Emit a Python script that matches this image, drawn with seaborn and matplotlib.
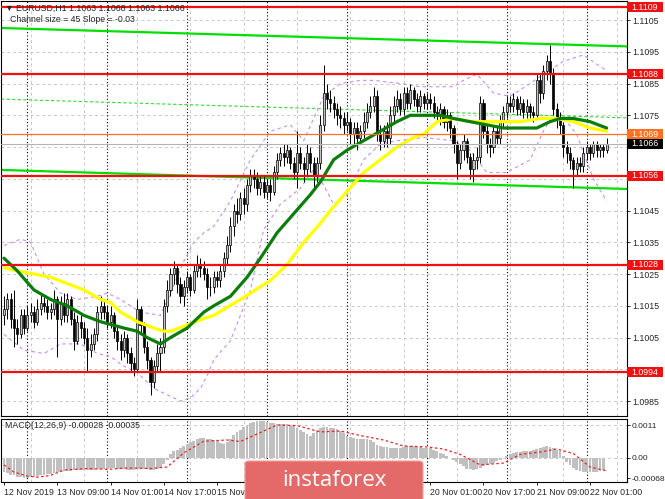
import numpy as np
import pandas as pd
import seaborn as sns
import matplotlib.pyplot as plt
from matplotlib.patches import FancyBboxPatch, Rectangle
from matplotlib.transforms import blended_transform_factory

sns.set_style("white")
plt.rcParams['font.family'] = ['Liberation Sans', 'DejaVu Sans']

# EURUSD H1, 12 Nov 17:00 .. 22 Nov 06:00 (one value per bar)
first_open = 1.1012
close_px = [
    1.1014, 1.1017, 1.1011, 1.1008, 1.1006, 1.1012, 1.1008, 1.1012, 1.1013, 1.1010,
    1.1014, 1.1016, 1.1015, 1.1013, 1.1014, 1.1017, 1.1011, 1.1016, 1.1012, 1.1017,
    1.1011, 1.1004, 1.1010, 1.1008, 1.1005, 1.1001, 1.1003, 1.1006, 1.1013, 1.1015,
    1.1013, 1.1010, 1.1012, 1.1007, 1.1004, 1.1001, 1.1005, 1.1000, 1.0997, 1.0995,
    1.1014, 1.1009, 1.1002, 1.0998, 1.0991, 1.0996, 1.1000, 1.1002, 1.1015, 1.1020,
    1.1025, 1.1027, 1.1022, 1.1018, 1.1021, 1.1024, 1.1020, 1.1026, 1.1028, 1.1027,
    1.1025, 1.1021, 1.1021, 1.1024, 1.1023, 1.1026, 1.1030, 1.1034, 1.1040, 1.1045,
    1.1044, 1.1049, 1.1047, 1.1053, 1.1056, 1.1055, 1.1052, 1.1054, 1.1051, 1.1053,
    1.1051, 1.1057, 1.1061, 1.1063, 1.1062, 1.1064, 1.1060, 1.1057, 1.1063, 1.1060,
    1.1058, 1.1063, 1.1060, 1.1056, 1.1060, 1.1072, 1.1082, 1.1080, 1.1079, 1.1077,
    1.1075, 1.1074, 1.1072, 1.1073, 1.1069, 1.1071, 1.1068, 1.1070, 1.1073, 1.1076,
    1.1078, 1.1081, 1.1069, 1.1067, 1.1070, 1.1068, 1.1075, 1.1078, 1.1080, 1.1077,
    1.1082, 1.1079, 1.1083, 1.1080, 1.1078, 1.1081, 1.1079, 1.1080, 1.1079, 1.1076,
    1.1075, 1.1077, 1.1073, 1.1075, 1.1071, 1.1066, 1.1060, 1.1064, 1.1067, 1.1062,
    1.1058, 1.1061, 1.1062, 1.1079, 1.1070, 1.1066, 1.1065, 1.1070, 1.1068, 1.1073,
    1.1076, 1.1079, 1.1078, 1.1080, 1.1077, 1.1079, 1.1076, 1.1078, 1.1076, 1.1075,
    1.1086, 1.1082, 1.1089, 1.1092, 1.1088, 1.1077, 1.1074, 1.1072, 1.1065, 1.1063,
    1.1061, 1.1058, 1.1060, 1.1059, 1.1063, 1.1065, 1.1063, 1.1066, 1.1064, 1.1065,
    1.1064, 1.1066]
high_px = [
    1.1018, 1.1019, 1.1019, 1.1020, 1.1011, 1.1014, 1.1014, 1.1015, 1.1016, 1.1015,
    1.1017, 1.1019, 1.1018, 1.1017, 1.1016, 1.1020, 1.1018, 1.1018, 1.1019, 1.1019,
    1.1018, 1.1013, 1.1012, 1.1012, 1.1010, 1.1008, 1.1006, 1.1008, 1.1015, 1.1018,
    1.1017, 1.1015, 1.1015, 1.1013, 1.1009, 1.1006, 1.1007, 1.1006, 1.1002, 1.0999,
    1.1017, 1.1015, 1.1010, 1.1004, 1.0999, 1.0998, 1.1003, 1.1005, 1.1017, 1.1023,
    1.1027, 1.1029, 1.1028, 1.1024, 1.1023, 1.1026, 1.1025, 1.1028, 1.1031, 1.1030,
    1.1029, 1.1027, 1.1024, 1.1026, 1.1026, 1.1028, 1.1032, 1.1037, 1.1043, 1.1047,
    1.1049, 1.1051, 1.1052, 1.1055, 1.1058, 1.1058, 1.1057, 1.1056, 1.1056, 1.1055,
    1.1055, 1.1059, 1.1063, 1.1065, 1.1066, 1.1066, 1.1065, 1.1062, 1.1070, 1.1065,
    1.1062, 1.1066, 1.1065, 1.1062, 1.1062, 1.1075, 1.1091, 1.1085, 1.1083, 1.1081,
    1.1079, 1.1078, 1.1076, 1.1076, 1.1074, 1.1073, 1.1073, 1.1072, 1.1076, 1.1079,
    1.1081, 1.1084, 1.1083, 1.1072, 1.1072, 1.1073, 1.1078, 1.1081, 1.1083, 1.1082,
    1.1084, 1.1084, 1.1085, 1.1084, 1.1082, 1.1083, 1.1082, 1.1082, 1.1082, 1.1081,
    1.1078, 1.1079, 1.1078, 1.1077, 1.1076, 1.1072, 1.1067, 1.1066, 1.1069, 1.1068,
    1.1063, 1.1063, 1.1065, 1.1081, 1.1080, 1.1072, 1.1068, 1.1072, 1.1072, 1.1075,
    1.1078, 1.1081, 1.1081, 1.1082, 1.1081, 1.1081, 1.1080, 1.1080, 1.1079, 1.1078,
    1.1088, 1.1088, 1.1091, 1.1094, 1.1097, 1.1090, 1.1079, 1.1076, 1.1073, 1.1067,
    1.1065, 1.1062, 1.1062, 1.1062, 1.1065, 1.1067, 1.1066, 1.1067, 1.1067, 1.1066,
    1.1066, 1.1068]
low_px = [
    1.1009, 1.1011, 1.1008, 1.1002, 1.1003, 1.1005, 1.1006, 1.1007, 1.1010, 1.1008,
    1.1009, 1.1012, 1.1013, 1.1011, 1.1011, 1.1012, 1.0999, 1.1009, 1.1010, 1.1010,
    1.1009, 1.1001, 1.1003, 1.1005, 1.1003, 1.0994, 1.0999, 1.1001, 1.1004, 1.1011,
    1.1011, 1.1008, 1.1008, 1.1005, 1.1001, 1.0998, 1.0999, 1.0997, 1.0994, 1.0993,
    1.0994, 1.1006, 1.1000, 1.0995, 1.0987, 1.0989, 1.0994, 1.0994, 1.1000, 1.1013,
    1.1018, 1.1022, 1.1019, 1.1016, 1.1015, 1.1019, 1.1018, 1.1019, 1.1024, 1.1024,
    1.1023, 1.1017, 1.1018, 1.1019, 1.1021, 1.1021, 1.1024, 1.1028, 1.1032, 1.1037,
    1.1041, 1.1042, 1.1044, 1.1045, 1.1051, 1.1052, 1.1050, 1.1050, 1.1049, 1.1049,
    1.1048, 1.1050, 1.1055, 1.1059, 1.1059, 1.1060, 1.1058, 1.1055, 1.1052, 1.1058,
    1.1054, 1.1056, 1.1057, 1.1052, 1.1054, 1.1058, 1.1070, 1.1077, 1.1076, 1.1074,
    1.1072, 1.1071, 1.1069, 1.1070, 1.1066, 1.1066, 1.1064, 1.1066, 1.1068, 1.1071,
    1.1074, 1.1076, 1.1067, 1.1064, 1.1065, 1.1065, 1.1066, 1.1073, 1.1076, 1.1075,
    1.1075, 1.1077, 1.1077, 1.1078, 1.1076, 1.1076, 1.1077, 1.1077, 1.1077, 1.1074,
    1.1073, 1.1072, 1.1071, 1.1070, 1.1068, 1.1063, 1.1055, 1.1058, 1.1061, 1.1060,
    1.1055, 1.1054, 1.1058, 1.1060, 1.1068, 1.1063, 1.1062, 1.1063, 1.1066, 1.1066,
    1.1071, 1.1074, 1.1076, 1.1076, 1.1075, 1.1075, 1.1074, 1.1074, 1.1074, 1.1073,
    1.1074, 1.1079, 1.1080, 1.1086, 1.1085, 1.1075, 1.1071, 1.1069, 1.1062, 1.1060,
    1.1058, 1.1052, 1.1056, 1.1057, 1.1057, 1.1061, 1.1061, 1.1062, 1.1062, 1.1062,
    1.1062, 1.1063]

# moving averages (bar index, price)
ma_green_idx = [0, 4, 9, 14, 19, 24, 29, 36, 40, 43, 47, 50, 55, 60, 63, 68, 73, 77, 82, 87,
                92, 95, 99, 103, 108, 113, 118, 122, 126, 131, 135, 140, 145, 150, 156,
                160, 164, 167, 171, 176, 181]
ma_green = [1.1030, 1.1026, 1.1020, 1.1017, 1.1015, 1.1012, 1.1010, 1.1008, 1.1007, 1.1005,
            1.1003, 1.1005, 1.1008, 1.1013, 1.1015, 1.1018, 1.1024, 1.1030, 1.1038, 1.1044,
            1.1050, 1.1054, 1.1061, 1.1064, 1.1067, 1.1070, 1.1073, 1.1075, 1.1075, 1.1075,
            1.1074, 1.1073, 1.1072, 1.1071, 1.1071, 1.1071, 1.1073, 1.1074, 1.1074, 1.1073,
            1.1071]
ma_yellow_idx = [0, 4, 9, 14, 19, 24, 29, 32, 35, 40, 45, 48, 50, 55, 60, 63, 71, 80, 85, 90,
                 95, 98, 103, 108, 113, 118, 123, 126, 130, 135, 140, 145, 150, 155, 161,
                 166, 171, 176, 181]
ma_yellow = [1.1027, 1.1026, 1.1025, 1.1024, 1.1022, 1.1020, 1.1017, 1.1016, 1.1013, 1.1010,
             1.1008, 1.1007, 1.1007, 1.1009, 1.1011, 1.1012, 1.1017, 1.1023, 1.1028, 1.1035,
             1.1041, 1.1045, 1.1051, 1.1057, 1.1061, 1.1065, 1.1068, 1.1069, 1.1073, 1.1074,
             1.1073, 1.1073, 1.1073, 1.1073, 1.1074, 1.1074, 1.1073, 1.1071, 1.1070]

# envelope bands (bar index, price)
band_up_idx = [0, 5, 8, 12, 17, 22, 28, 31, 35, 41, 47, 50, 54, 57, 60, 63, 68, 74, 80, 86,
               90, 93, 96, 101, 107, 111, 119, 125, 135, 138, 142, 147, 152, 158, 162,
               168, 174, 181]
band_up = [1.1034, 1.1036, 1.1035, 1.1025, 1.1019, 1.1017, 1.1018, 1.1019, 1.1017, 1.1013,
           1.1012, 1.1019, 1.1029, 1.1035, 1.1038, 1.1040, 1.1048, 1.1061, 1.1070, 1.1072,
           1.1067, 1.1074, 1.1081, 1.1085, 1.1086, 1.1086, 1.1085, 1.1084, 1.1084, 1.1086,
           1.1088, 1.1082, 1.1081, 1.1085, 1.1088, 1.1092, 1.1094, 1.1089]
band_lo_idx = [0, 6, 12, 17, 23, 28, 32, 36, 40, 45, 49, 53, 56, 59, 61, 63, 68, 74, 78, 83,
               89, 93, 96, 99, 103, 108, 113, 118, 126, 135, 140, 145, 151, 158, 162, 166,
               172, 177, 181]
band_lo = [1.1006, 1.1001, 1.1000, 1.1003, 1.1003, 1.1000, 1.0999, 1.0996, 1.0994, 1.0989,
           1.0987, 1.0985, 1.0986, 1.0989, 1.0993, 1.0998, 1.1004, 1.1020, 1.1039, 1.1047,
           1.1052, 1.1058, 1.1053, 1.1047, 1.1050, 1.1061, 1.1066, 1.1067, 1.1068, 1.1067,
           1.1064, 1.1057, 1.1057, 1.1061, 1.1070, 1.1077, 1.1069, 1.1055, 1.1048]

# linear regression channel (ends at the plot edges)
chan_idx = [-0.9, 187.1]
chan_top = [1.11025, 1.10967]
chan_mid = [1.10801, 1.10742]
chan_bot = [1.10578, 1.10518]

levels_red = [1.1109, 1.1088, 1.1056, 1.1028, 1.0994]
level_orange = 1.1069
level_bid = 1.1066

price_ticks = [1.0985, 1.0995, 1.1005, 1.1015, 1.1025, 1.1035, 1.1045, 1.1055,
               1.1065, 1.1075, 1.1085, 1.1095, 1.1105]
hidden_ticks = [1.0995, 1.1055, 1.1065]   # covered by the price tags

# MACD main (histogram) per bar, in 1e-5
macd_hist = [
    -45, -50, -55, -58, -62, -64, -66,
    -66, -64, -62, -60, -58, -56, -54, -52, -50, -48, -46, -44, -43,
    -42, -41, -40, -40, -39, -40, -41, -40, -38, -36, -35, -35,
    -34, -34, -35, -37, -38, -39, -40, -41, -37, -36, -37, -38, -40, -40, -38, -32,
    -20, -5, 12, 22, 28, 32,
    40, 46, 52, 58, 63, 66, 66, 64, 62, 60, 56, 50, 46,
    55, 65, 76, 87, 95, 103, 110, 116, 120, 122, 123, 122, 120, 118, 116, 115, 114,
    114, 113, 110, 106, 100, 94, 88, 80, 75, 82, 92, 100, 103, 102, 101, 100, 96, 90,
    82, 75, 70, 67, 65, 64, 64, 62, 60, 52, 45, 40, 38, 36, 35, 35, 34, 35, 37, 39,
    40, 40, 38, 36, 35, 35, 32, 28, 22, 17, 12, 6, 0, -6, -14, -20, -28, -35, -38,
    -40, -36, -32, -27, -23, -19, -15, -10, -6, 0, 6, 12, 17, 19, 21, 22, 23, 25, 28,
    30, 33, 37, 40, 38, 33, 28, 23, 8, -12, -22, -32, -40, -44, -47, -48, -48, -47,
    -47, -44, -40]
signal_idx = [0, 3, 7, 10, 14, 18, 25, 31, 37, 44, 49, 54, 60, 67, 71, 76, 82, 88, 95, 101,
              107, 114, 120, 127, 132, 137, 143, 150, 155, 161, 166, 171, 176, 181]
signal_val = [-23, -47, -60, -64, -58, -40, -35, -38, -33, -35, -30, 17, 56, 60, 55, 80, 110,
              108, 87, 90, 75, 60, 40, 37, 30, 12, -23, -17, 12, 20, 30, 15, -30, -43]

# time scale: labels under the watermark are left blank
date_idx = [0, 16, 32, 48, 64, 80, 96, 112, 128, 144, 160, 176]
date_labels = ['12 Nov 2019', '13 Nov 09:00', '14 Nov 01:00', '14 Nov 17:00', '15 Nov 09:00',
               '', '', '', '20 Nov 01:00', '20 Nov 17:00', '21 Nov 09:00', '22 Nov 01:00']
day_sep_idx = [7, 31, 55, 79, 103, 127, 151, 175]
grid_idx = [8, 24, 40, 56, 72, 88, 104, 120, 136, 152, 168, 184]

W, H = 665, 499
fig = plt.figure(figsize=(W / 100, H / 100), dpi=100)
ax = fig.add_axes([1 / W, 83 / H, 626 / W, 415 / H])
axm = fig.add_axes([1 / W, 17 / H, 626 / W, 63 / H])

bars = pd.DataFrame({'close': close_px, 'high': high_px, 'low': low_px})
bars['open'] = [first_open] + close_px[:-1]
bars['i'] = np.arange(len(bars))
up = bars['close'] >= bars['open']

grid_kw = dict(color='#C8C8C8', lw=0.7, ls=(0, (3, 3)), zorder=0)
for a in (ax, axm):
    for g in grid_idx:
        a.axvline(g, **grid_kw)
    for s in day_sep_idx:
        a.axvline(s, color='black', lw=0.8, ls=(0, (1, 2)), zorder=1)
for p in price_ticks:
    ax.axhline(p, **grid_kw)
axm.axhline(0, **grid_kw)
axm.axhline(0.0011, **grid_kw)

# channel
sns.lineplot(x=chan_idx, y=chan_top, ax=ax, color='#00E000', lw=1.6, zorder=2)
sns.lineplot(x=chan_idx, y=chan_bot, ax=ax, color='#00E000', lw=1.6, zorder=2)
sns.lineplot(x=chan_idx, y=chan_mid, ax=ax, color='#33DD33', lw=0.8, ls=(0, (3, 2)), zorder=2)

# horizontal levels
for lv in levels_red:
    ax.axhline(lv, color='#F01010', lw=1.6, zorder=6)
ax.axhline(level_orange, color='#FF7020', lw=0.9, zorder=6)
ax.axhline(level_bid, color='#B4B4B4', lw=0.8, zorder=6)

# bands
sns.lineplot(x=band_up_idx, y=band_up, ax=ax, color='#C78CF0', lw=0.8, ls=(0, (3, 3)), zorder=2)
sns.lineplot(x=band_lo_idx, y=band_lo, ax=ax, color='#C78CF0', lw=0.8, ls=(0, (3, 3)), zorder=2)

# candles
ax.vlines(bars['i'], bars['low'], bars['high'], color='black', lw=0.7, zorder=3)
ax.bar(bars['i'], (bars['close'] - bars['open']).abs(), bottom=bars[['open', 'close']].min(axis=1),
       width=0.62, color=np.where(up, '#C4C4C4', 'black'), edgecolor='black', lw=0.5, zorder=4)

# moving averages
sns.lineplot(x=ma_yellow_idx, y=ma_yellow, ax=ax, color='#FFFF00', lw=2.3, zorder=5)
sns.lineplot(x=ma_green_idx, y=ma_green, ax=ax, color='#0A7D0A', lw=2.3, zorder=5)

ax.set_xlim(-0.9, 187.1)
ax.set_ylim(1.09803, 1.11110)
ax.yaxis.tick_right()
ax.set_yticks(price_ticks)
ax.set_yticklabels(['' if p in hidden_ticks else f'{p:.4f}' for p in price_ticks])
ax.set_xticks([])
ax.tick_params(axis='y', labelsize=6.3, length=2.5, pad=1.5, direction='out', right=True, width=0.7)

# price tags on the right scale
tr = blended_transform_factory(ax.transAxes, ax.transData)
tags = [(1.1109, '#F01010'), (1.1088, '#F01010'), (1.1069, '#FF7020'), (1.1066, 'black'),
        (1.1056, '#F01010'), (1.1028, '#F01010'), (1.0994, '#F01010')]
tag_h = 10 / 31750
for price, col in tags:
    ax.add_patch(Rectangle((1.0, price - tag_h / 2), 0.058, tag_h, transform=tr, clip_on=False,
                           fc=col, ec='none', zorder=8))
    ax.text(1.007, price, f'{price:.4f}', transform=tr, ha='left', va='center', fontsize=6.3,
            color='white', zorder=9)

# MACD panel
axm.bar(np.arange(len(macd_hist)), np.array(macd_hist) * 1e-5, width=0.85, color='#C0C0C0',
        lw=0, zorder=2)
sns.lineplot(x=signal_idx, y=np.array(signal_val) * 1e-5, ax=axm, color='#F02020', lw=0.9,
             ls=(0, (2, 2)), zorder=3)
axm.set_xlim(-0.9, 187.1)
axm.set_ylim(-0.00080, 0.00130)
axm.yaxis.tick_right()
axm.set_yticks([-0.00068, 0.0, 0.0011])
axm.set_yticklabels(['-0.00068', '0.00', '0.0011'])
axm.set_xticks(date_idx)
axm.set_xticklabels(date_labels, ha='left')
axm.tick_params(axis='y', labelsize=6.1, length=2.5, pad=1, right=True, width=0.7)
axm.tick_params(axis='x', labelsize=6.3, length=2.5, pad=1.5, bottom=True, width=0.7)
for a in (ax, axm):
    for sp in a.spines.values():
        sp.set_color('black')
        sp.set_linewidth(0.8)

fig.text(5 / W, 1 - 8 / H, '\u25bc EURUSD,H1 1.1063 1.1068 1.1063 1.1066', fontsize=6.3,
         va='center', ha='left')
fig.text(10 / W, 1 - 19 / H, 'Channel size = 45 Slope = -0.03', fontsize=6.3, va='center', ha='left')
fig.text(5 / W, 1 - 426 / H, 'MACD(12,26,9) -0.00028 -0.00035', fontsize=6.3, va='center', ha='left')

# watermark
fig.add_artist(FancyBboxPatch((245 / W, -0.02), 178 / W, 0.02 + 38 / H,
                              boxstyle='round,pad=0,rounding_size=0.006',
                              transform=fig.transFigure, fc='#E46A6A', ec='#F0A0A0', lw=0.8,
                              zorder=10))
fig.text(334 / W, 1 - 480 / H, 'instaforex', fontsize=16, family='Open Sans', color='white',
         ha='center', va='center', zorder=11)

fig.savefig('out.png', dpi=100)
